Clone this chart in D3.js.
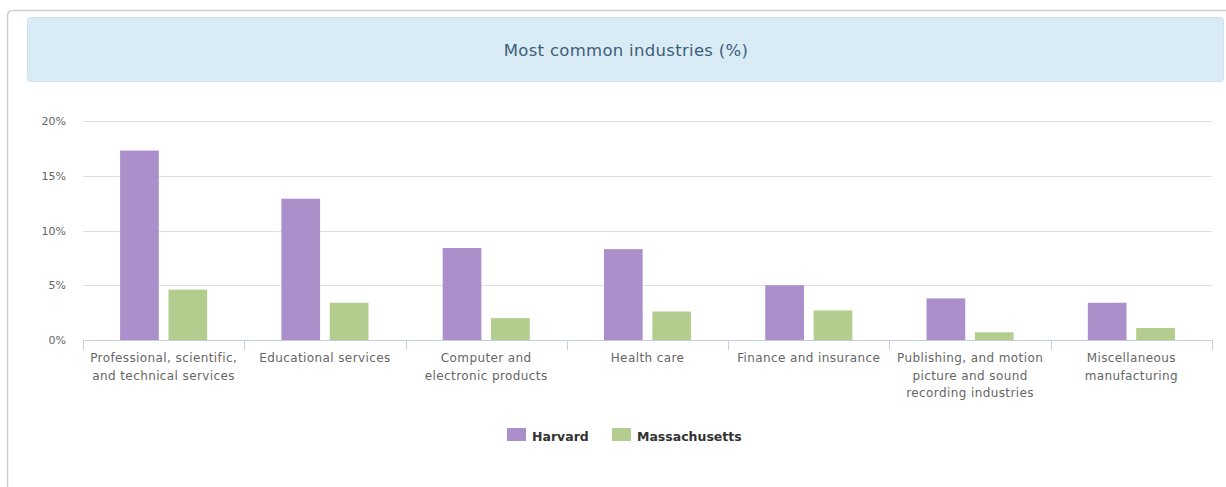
<!DOCTYPE html>
<html>
<head>
<meta charset="utf-8">
<script src="https://cdn.jsdelivr.net/npm/d3@7"></script>
<style>
  html, body { margin: 0; padding: 0; background: #fff; }
  svg { display: block; }
</style>
</head>
<body>
<svg id="chart" width="1226" height="487"></svg>
<script>
// Industry shares (%) for Harvard vs. the state
const categories = [
  ["Professional, scientific,", "and technical services"],
  ["Educational services"],
  ["Computer and", "electronic products"],
  ["Health care"],
  ["Finance and insurance"],
  ["Publishing, and motion", "picture and sound", "recording industries"],
  ["Miscellaneous", "manufacturing"]
];
const seriesNames = ["Harvard", "Massachusetts"];
const harvard = [17.3, 12.9, 8.4, 8.3, 5.0, 3.8, 3.4];
const massachusetts = [4.6, 3.4, 2.0, 2.6, 2.7, 0.7, 1.1];
const yTicks = [0, 5, 10, 15, 20];
const colors = ["#ab8fcb", "#b3cd8f"];

const svg = d3.select("#chart");
const fontFamily = "'DejaVu Sans', Verdana, sans-serif";

// Outer panel
svg.append("path")
  .attr("d", "M7.5,487 L7.5,16 Q7.5,10.5 13,10.5 L1226,10.5")
  .attr("fill", "none").attr("stroke", "#cfcfcf").attr("stroke-width", 1.5);

// Title banner
svg.append("rect")
  .attr("x", 27.5).attr("y", 17.5).attr("width", 1196).attr("height", 64)
  .attr("rx", 3).attr("fill", "#d9ebf5").attr("stroke", "#cde2ee");
svg.append("text")
  .attr("x", 626).attr("y", 56).attr("text-anchor", "middle")
  .attr("font-family", fontFamily).attr("font-size", 16.5).attr("letter-spacing", 0.3)
  .attr("fill", "#3d5d78").text("Most common industries (%)");

const margin = { left: 83, right: 1212, top: 121, bottom: 340 };
const idx = d3.range(categories.length);

const x = d3.scaleBand().domain(idx).range([margin.left, margin.right]).paddingInner(0).paddingOuter(0);
const groupPad = 0.2, pointPad = 0.1;
const y = d3.scaleLinear().domain([0, 20]).range([margin.bottom, margin.top]);

// Gridlines
svg.append("g")
  .selectAll("line").data(yTicks.filter(d => d > 0)).join("line")
  .attr("x1", margin.left).attr("x2", margin.right)
  .attr("y1", d => Math.round(y(d)) + 0.5).attr("y2", d => Math.round(y(d)) + 0.5)
  .attr("stroke", "#e0e0e0");

// Y axis labels
const yAxis = d3.axisLeft(y).tickValues(yTicks).tickFormat(d => d + "%").tickSize(0).tickPadding(0);
const gy = svg.append("g").attr("transform", `translate(66,0)`).call(yAxis);
gy.select(".domain").remove();
gy.selectAll("text")
  .attr("font-family", fontFamily).attr("font-size", 11).attr("fill", "#666")
  .attr("dy", "0.32em");

// Bars
const bw = x.bandwidth();
const groupW = bw * (1 - 2 * groupPad);
const pointW = groupW / seriesNames.length;
const xs = d3.scaleBand().domain(d3.range(seriesNames.length))
  .range([0, groupW]).paddingInner(0).paddingOuter(0);
const allSeries = [harvard, massachusetts];
allSeries.forEach((vals, s) => {
  svg.append("g").selectAll("rect").data(vals).join("rect")
    .attr("x", (d, i) => x(i) + bw * groupPad + xs(s) + pointW * pointPad)
    .attr("width", pointW * (1 - 2 * pointPad))
    .attr("y", d => y(d))
    .attr("height", d => y(0) - y(d))
    .attr("fill", colors[s]);
});

// X axis with category boundary ticks
const gx = svg.append("g");
gx.append("line")
  .attr("x1", margin.left).attr("x2", margin.right)
  .attr("y1", margin.bottom + 0.5).attr("y2", margin.bottom + 0.5)
  .attr("stroke", "#c0d0e0");
gx.selectAll("line.tick").data(d3.range(categories.length + 1)).join("line")
  .attr("class", "tick")
  .attr("x1", i => Math.round(margin.left + i * bw) + 0.5)
  .attr("x2", i => Math.round(margin.left + i * bw) + 0.5)
  .attr("y1", margin.bottom).attr("y2", margin.bottom + 10)
  .attr("stroke", "#c0d0e0");

gx.selectAll("text.cat").data(categories).join("text")
  .attr("class", "cat")
  .attr("x", (d, i) => x(i) + bw / 2)
  .attr("y", margin.bottom + 22)
  .attr("text-anchor", "middle")
  .attr("font-family", fontFamily).attr("font-size", 12).attr("letter-spacing", 0.4)
  .attr("fill", "#666")
  .each(function(lines) {
    const t = d3.select(this);
    lines.forEach((ln, k) => {
      t.append("tspan").attr("x", t.attr("x")).attr("dy", k === 0 ? 0 : 17.5).text(ln);
    });
  });

// Legend
const legend = svg.append("g");
const legendItems = [{ name: seriesNames[0], x: 507 }, { name: seriesNames[1], x: 612 }];
legendItems.forEach((it, s) => {
  legend.append("rect").attr("x", it.x).attr("y", 428).attr("width", 19).attr("height", 13)
    .attr("fill", colors[s]);
  legend.append("text").attr("x", it.x + 25).attr("y", 440.5)
    .attr("font-family", fontFamily).attr("font-size", 12.5).attr("font-weight", "bold")
    .attr("fill", "#333").text(it.name);
});
</script>
</body>
</html>
